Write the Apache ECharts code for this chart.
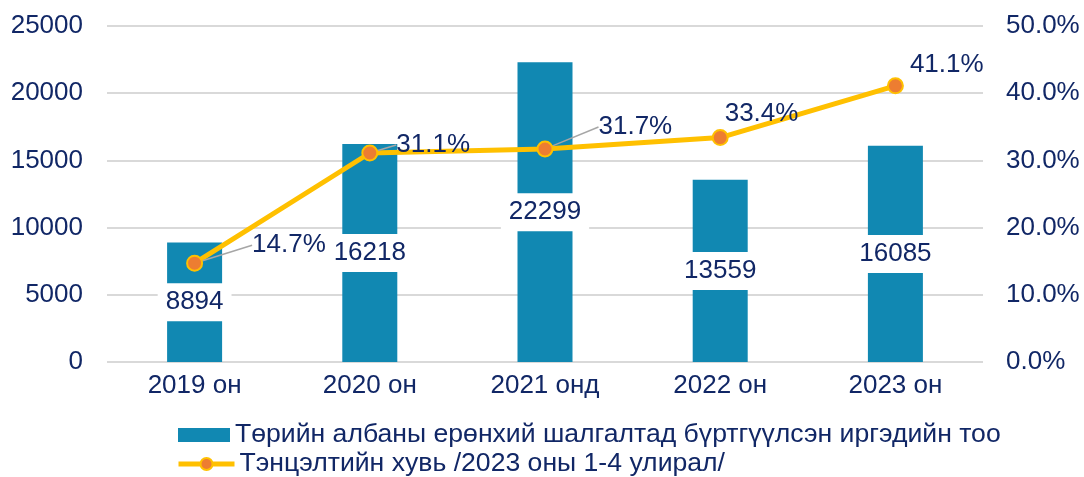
<!DOCTYPE html>
<html>
<head>
<meta charset="utf-8">
<script src="https://cdn.jsdelivr.net/npm/echarts@6/dist/echarts.min.js"></script>
<style>
html,body{margin:0;padding:0;background:#fff;}
#chart{width:1084px;height:477px;}
</style>
</head>
<body>
<div id="chart"></div>
<script>
const categories = ['2019 он', '2020 он', '2021 онд', '2022 он', '2023 он'];
const registered = [8894, 16218, 22299, 13559, 16085];
const ratio = [14.7, 31.1, 31.7, 33.4, 41.1];
const leftTicks = { min: 0, max: 25000, interval: 5000 };
const rightTicks = { min: 0, max: 50, interval: 10 };
const barName = 'Төрийн албаны ерөнхий шалгалтад бүртгүүлсэн иргэдийн тоо';
const lineName = 'Тэнцэлтийн хувь /2023 оны 1-4 улирал/';

const navy = '#112766';
const FONT = 'Liberation Sans, Arial, sans-serif';
const labelShift = [[44, -18], [13, -8], [40, -22], [-9, -24], [1, -21]];
const showLeader = [true, true, true, false, false];

const legendText = { color: navy, fontSize: 26.6, lineHeight: 28, fontFamily: FONT };

const chart = echarts.init(document.getElementById('chart'));
chart.setOption({
  animation: false,
  textStyle: { fontFamily: FONT },
  grid: { left: 107, right: 101, top: 26, bottom: 115 },
  legend: [
    {
      left: 178, top: 421, padding: 0, itemGap: 0, itemWidth: 52, itemHeight: 14,
      textStyle: legendText,
      data: [{ name: barName, icon: 'rect' }]
    },
    {
      left: 176, top: 450, padding: 0, itemGap: 0, itemWidth: 56, itemHeight: 15,
      textStyle: legendText,
      data: [{ name: lineName, lineStyle: { width: 5, color: '#FFC000' } }]
    }
  ],
  xAxis: {
    type: 'category',
    data: categories,
    axisLine: { show: false },
    axisTick: { show: false },
    axisLabel: { color: navy, fontSize: 26, margin: 11, fontFamily: FONT }
  },
  yAxis: [
    {
      type: 'value',
      min: leftTicks.min, max: leftTicks.max, interval: leftTicks.interval,
      axisLine: { show: false }, axisTick: { show: false },
      axisLabel: { color: navy, fontSize: 26, margin: 24, fontFamily: FONT,
        formatter: v => String(v) },
      splitLine: { lineStyle: { color: '#D9D9D9', width: 2 } }
    },
    {
      type: 'value',
      min: rightTicks.min, max: rightTicks.max, interval: rightTicks.interval,
      axisLine: { show: false }, axisTick: { show: false },
      axisLabel: { color: navy, fontSize: 26, margin: 23, fontFamily: FONT,
        formatter: v => v.toFixed(1) + '%' },
      splitLine: { show: false }
    }
  ],
  series: [
    {
      name: barName,
      type: 'bar',
      data: registered,
      barWidth: 55,
      itemStyle: { color: '#1188B2' },
      label: {
        show: true,
        position: 'inside',
        color: navy,
        fontSize: 26,
        fontFamily: FONT,
        backgroundColor: '#fff',
        padding: [6, 8, 6, 8]
      }
    },
    {
      name: lineName,
      type: 'line',
      yAxisIndex: 1,
      data: ratio.map((v, i) => ({ value: v, labelLine: { show: showLeader[i] } })),
      z: 5,
      symbol: 'circle',
      symbolSize: 15,
      lineStyle: { color: '#FFC000', width: 5 },
      itemStyle: { color: '#ED7D31', borderColor: '#FFC000', borderWidth: 2 },
      label: {
        show: true,
        position: 'right',
        color: navy,
        fontSize: 26,
        fontFamily: FONT,
        formatter: p => p.value.toFixed(1) + '%'
      },
      labelLine: { show: true, lineStyle: { color: '#A6A6A6', width: 1.5 } },
      labelLayout: p => ({ dx: labelShift[p.dataIndex][0], dy: labelShift[p.dataIndex][1] })
    }
  ]
});
</script>
</body>
</html>
